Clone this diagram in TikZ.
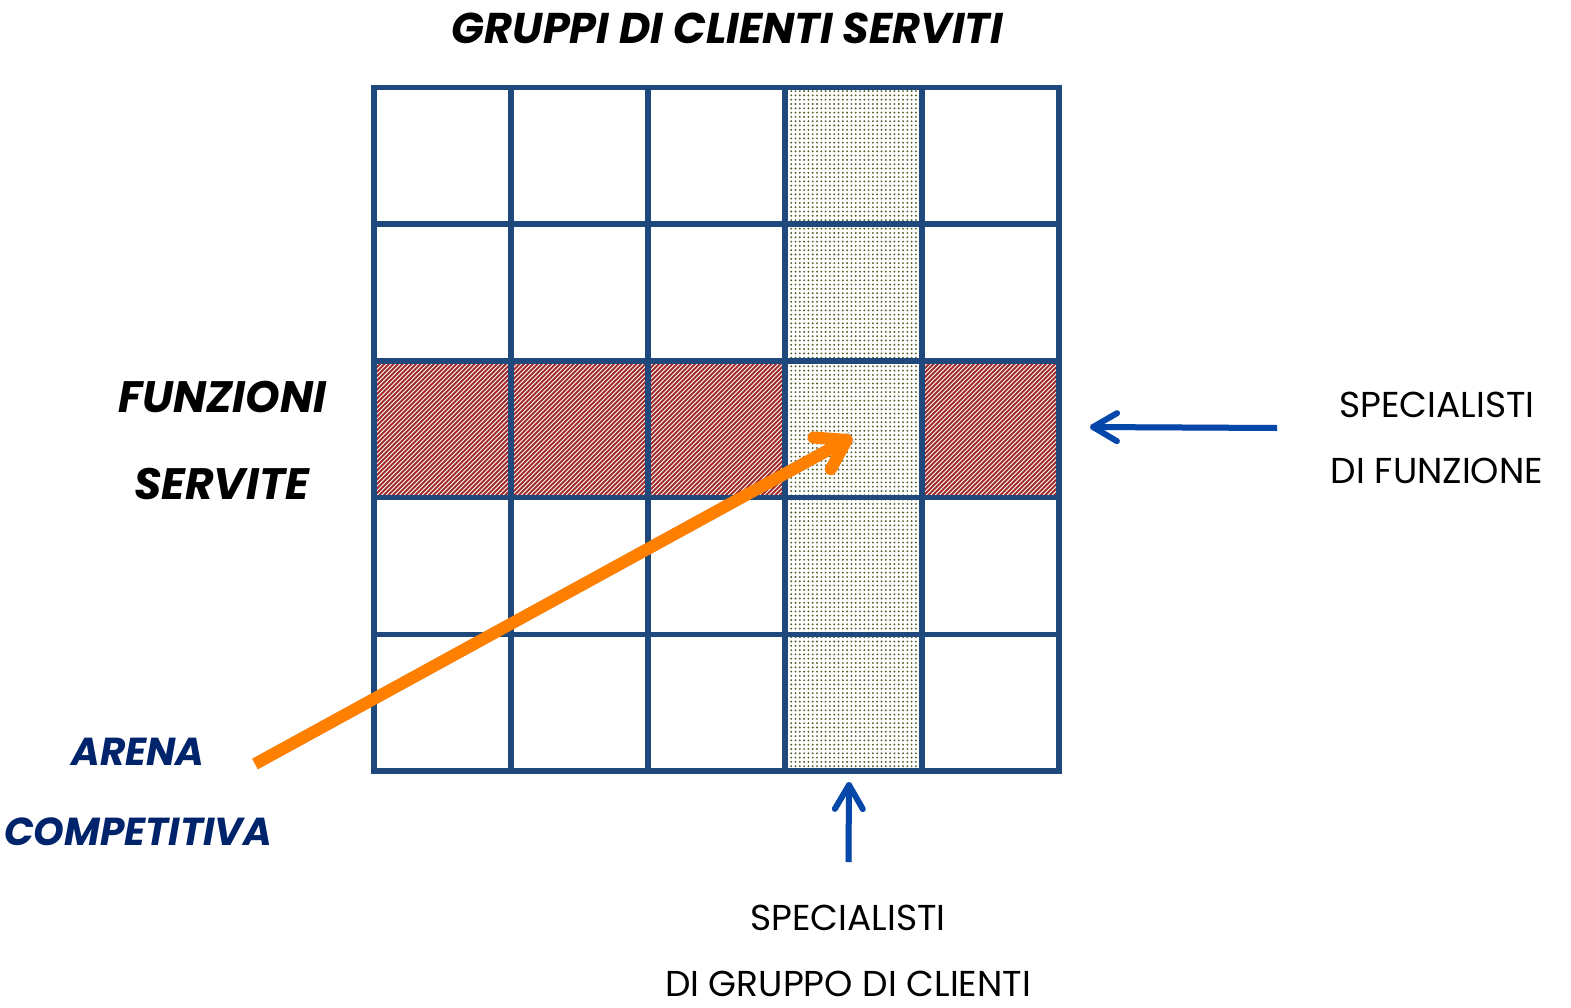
\documentclass[tikz,border=0pt]{standalone}
\usepackage{fontspec}
\setmainfont{Poppins}
\usetikzlibrary{arrows.meta,patterns.meta}
\definecolor{gridblue}{RGB}{31,73,125}
\definecolor{stripered}{RGB}{160,42,42}
\definecolor{dotgreen}{RGB}{80,95,40}
\definecolor{arroworange}{RGB}{255,127,0}
\definecolor{arrowblue}{RGB}{5,72,170}
\definecolor{navy}{RGB}{0,36,107}
\tikzset{
  titlelabel/.style={font=\fontsize{43}{46}\selectfont\bfseries\itshape, text=black, inner sep=0pt, anchor=center},
  boldlabel/.style={font=\fontsize{44}{48}\selectfont\bfseries\itshape, text=black, inner sep=0pt, anchor=center},
  plainlabel/.style={font=\fontsize{36}{40}\selectfont, text=black, inner sep=0pt, anchor=center},
  arenalabel/.style={font=\fontsize{39}{42}\selectfont\bfseries\itshape, text=navy, inner sep=0pt, anchor=center},
  gridline/.style={draw=gridblue, line width=5.5pt},
  stripeline/.style={draw=stripered, line width=1.8pt},
  dots/.style={pattern={Dots[distance=4.3pt,radius=1.05pt]}, pattern color=dotgreen},
  orangearrow/.style={draw=arroworange, line width=12pt, -{Straight Barb[length=28pt,width=36pt,round]}},
  bluearrow/.style={draw=arrowblue, line width=6pt, -{Straight Barb[length=24pt,width=28pt,round]}},
  shadowline/.style={draw=black, opacity=0.18}
}
\begin{document}
\begin{tikzpicture}[x=1pt,y=-1pt]
\useasboundingbox (0,0) rectangle (1571,1007);
\fill[white] (0,0) rectangle (1571,1007);
% striped cells (row 3, columns 1-3 and 5)
\begin{scope}
  \clip (374,360.9) rectangle (785,497.6) (922,360.9) rectangle (1059,497.6);
  \foreach \k in {0,...,190} {
    \draw[stripeline] ({235+4.5*\k},500) -- ({235+4.5*\k+142},358);
  }
\end{scope}
% dotted column 4
\fill[dots] (785,87.5) rectangle (922,771);
% grid
\foreach \i in {0,...,5} {
  \draw[gridline] ({374+137*\i},85) -- ({374+137*\i},774);
  \draw[gridline] (371.5,{87.5+136.7*\i}) -- (1061.5,{87.5+136.7*\i});
}
% texts
\node[titlelabel] (title) at (727.5,28.5) {GRUPPI DI CLIENTI SERVITI};
\node[boldlabel] (funzioni) at (222.5,397) {FUNZIONI};
\node[boldlabel] (servite) at (221.5,484) {SERVITE};
\node[plainlabel] (specF) at (1437,405) {SPECIALISTI};
\node[plainlabel] (diF) at (1437,471) {DI FUNZIONE};
\node[plainlabel] (specG) at (848,918) {SPECIALISTI};
\node[plainlabel] (diG) at (848,984) {DI GRUPPO DI CLIENTI};
\node[arenalabel] (arena) at (138,752) {ARENA};
\node[arenalabel] (competitiva) at (138,832) {COMPETITIVA};
% arrows
\coordinate (arenaStart) at (255,764);
\coordinate (arenaTip) at (852,437);
\coordinate (sfStart) at (1277,428);
\coordinate (sfTip) at (1090,427);
\coordinate (sgStart) at (848.5,862);
\coordinate (sgTip) at (849,782);
\begin{scope}[shift={(2.5,3.5)}]
  \draw[shadowline, line width=12pt] (arenaStart) -- (arenaTip);
  \draw[shadowline, line width=6pt] (sfStart) -- (sfTip);
  \draw[shadowline, line width=6pt] (sgStart) -- (sgTip);
\end{scope}
\draw[orangearrow] (arenaStart) -- (arenaTip);
\draw[bluearrow] (sfStart) -- (sfTip);
\draw[bluearrow] (sgStart) -- (sgTip);
\end{tikzpicture}
\end{document}
